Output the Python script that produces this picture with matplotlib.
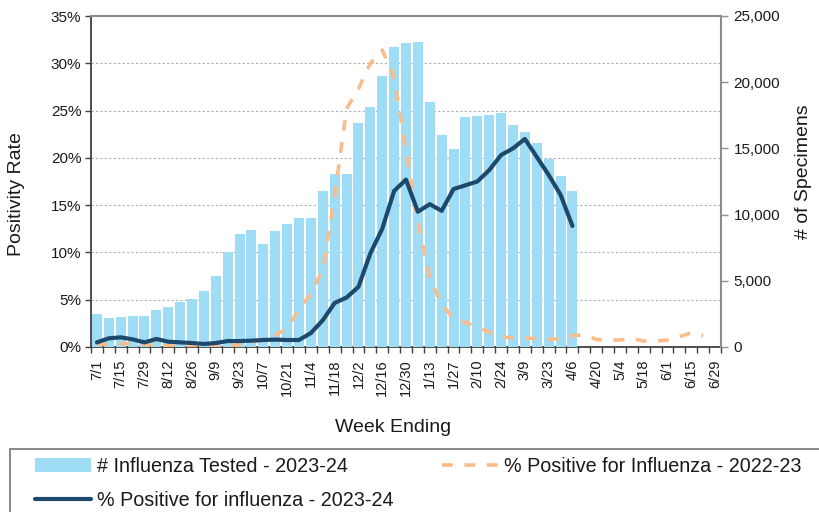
import matplotlib
matplotlib.use("Agg")
import matplotlib.pyplot as plt
from matplotlib.ticker import FuncFormatter, FixedLocator
from matplotlib.patches import Rectangle
import numpy as np

plt.rcParams['font.family'] = ['Liberation Sans', 'DejaVu Sans']

weeks = ["7/1", "7/8", "7/15", "7/22", "7/29", "8/5", "8/12", "8/19", "8/26",
         "9/2", "9/9", "9/16", "9/23", "9/30", "10/7", "10/14", "10/21", "10/28",
         "11/4", "11/11", "11/18", "11/25", "12/2", "12/9", "12/16", "12/23", "12/30",
         "1/6", "1/13", "1/20", "1/27", "2/3", "2/10", "2/17", "2/24",
         "3/2", "3/9", "3/16", "3/23", "3/30", "4/6", "4/13", "4/20", "4/27",
         "5/4", "5/11", "5/18", "5/25", "6/1", "6/8", "6/15", "6/22", "6/29"]

tested_2023_24 = [2520, 2200, 2270, 2370, 2370, 2780, 3030, 3410, 3660, 4220,
                  5350, 7190, 8560, 8810, 7750, 8730, 9290, 9770, 9770, 11790,
                  13070, 13070, 16930, 18120, 20440, 22640, 22970, 23040, 18530, 16030,
                  14970, 17390, 17470, 17540, 17690, 16760, 16250, 15400, 14180, 12900,
                  11760]

pos_2023_24 = [0.49, 0.92, 1.02, 0.81, 0.49, 0.85, 0.56, 0.49, 0.42, 0.32,
               0.42, 0.63, 0.63, 0.67, 0.74, 0.78, 0.74, 0.74, 1.48, 2.83,
               4.66, 5.23, 6.36, 9.9, 12.5, 16.5, 17.7, 14.3, 15.1, 14.4,
               16.7, 17.1, 17.5, 18.7, 20.3, 21.0, 22.0, 20.1, 18.2, 16.1,
               12.8]

pos_2022_23 = [0.30, 0.25, 0.35, 0.35, 0.30, 0.15, 0.12, 0.05, 0.05, 0.05,
               0.05, 0.15, 0.25, 0.50, 0.80, 1.20, 2.00, 4.00, 5.60, 8.20,
               16.0, 25.2, 27.3, 30.0, 31.4, 28.5, 20.8, 13.2, 7.3, 4.5,
               3.0, 2.6, 2.1, 1.6, 1.1, 0.95, 1.0, 0.85, 0.8, 0.9,
               1.2, 1.3, 0.8, 0.7, 0.75, 0.9, 0.63, 0.6, 0.74, 1.1,
               1.5, 1.2]

bar_color = '#9FDDF6'
dark_color = '#1D4A6C'
orange_color = '#FBBC8C'
text_color = '#1a1a1a'

W, H = 819, 512
fig = plt.figure(figsize=(W/100, H/100), dpi=100)
L, R, B, T = 91/W, 721/W, 1-347/H, 1-16/H
ax = fig.add_axes([L, B, R-L, T-B])
ax2 = ax.twinx()
ax3 = fig.add_axes([L, B, R-L, T-B], sharex=ax, sharey=ax)
ax3.axis('off')
ax3.patch.set_visible(False)
ax2.patch.set_visible(False)

n = len(weeks)
x_all = np.arange(n)

# bars on right axis
bars = ax2.bar(np.arange(len(tested_2023_24)), tested_2023_24, width=0.84,
               color=bar_color, linewidth=0, label='# Influenza Tested - 2023-24', zorder=2)
ax2.set_ylim(0, 25000)
ax2.set_yticks(np.arange(0, 25001, 5000))
ax2.yaxis.set_major_formatter(FuncFormatter(lambda v, p: f"{int(v):,}"))

# lines on overlay axis sharing left scale
l2, = ax3.plot(np.arange(len(pos_2022_23)), pos_2022_23, color=orange_color, lw=2.6,
               dashes=(3.0, 3.2), label='% Positive for Influenza - 2022-23', zorder=3)
l1, = ax3.plot(np.arange(len(pos_2023_24)), pos_2023_24, color=dark_color, lw=3.0,
               solid_joinstyle='round', solid_capstyle='round',
               label='% Positive for influenza - 2023-24', zorder=4)

ax.set_xlim(-0.5, n - 0.5)
ax.set_ylim(0, 35)
ax.set_yticks(np.arange(0, 36, 5))
ax.yaxis.set_major_formatter(FuncFormatter(lambda v, p: f"{int(v)}%"))
ax.yaxis.grid(True, color='#b0b0b0', linestyle=(0, (2, 2)), linewidth=0.8)
ax.set_axisbelow(True)

# x ticks
ax.set_xticks(x_all[::2])
ax.set_xticklabels(weeks[::2], rotation=90, va='top', ha='center')
ax.xaxis.set_minor_locator(FixedLocator(np.arange(-0.5, n, 1.0)))
ax.tick_params(axis='x', which='major', length=0, pad=9, labelsize=10.5, labelcolor=text_color)
ax.tick_params(axis='x', which='minor', length=4, width=1, color='#404040', direction='out')
ax.tick_params(axis='y', which='major', length=4, width=1, color='#404040', direction='out',
               labelsize=11, labelcolor=text_color, pad=3)
ax2.tick_params(axis='y', which='major', length=5, width=1, color='#909090', direction='out',
                labelsize=11, labelcolor=text_color, pad=4)

for s in ['left', 'bottom']:
    ax.spines[s].set_color('#404040')
    ax.spines[s].set_linewidth(1.3)
ax.spines['top'].set_color('#8c8c8c')
ax.spines['top'].set_linewidth(1.5)
ax.spines['right'].set_visible(False)
for s in ['left', 'bottom', 'top']:
    ax2.spines[s].set_visible(False)
ax2.spines['right'].set_color('#8c8c8c')
ax2.spines['right'].set_linewidth(1.5)

fig.text(17/W, 1-194/H, 'Positivity Rate', rotation=90, va='center', ha='center',
         fontsize=14, color=text_color)
fig.text(803/W, 1-172/H, '# of Specimens', rotation=90, va='center', ha='center',
         fontsize=14, color=text_color)
fig.text(393/W, 1-428/H, 'Week Ending', va='center', ha='center',
         fontsize=14, color=text_color)

# legend frame (extends past the figure edge as in the reference)
frame = Rectangle((10/W, 1-540/H), 830/W, 91/H, transform=fig.transFigure,
                  facecolor='white', edgecolor='#7f7f7f', linewidth=1.3, zorder=0,
                  clip_on=False)
fig.add_artist(frame)

leg = fig.legend(handles=[bars, l1, l2], ncol=2, loc='upper left',
                 bbox_to_anchor=(35/W, 1-457/H - 0.2, (802-35)/W, 0.2), mode='expand',
                 frameon=False, fontsize=14.2,
                 handlelength=2.85, handletextpad=0.3, labelspacing=0.78,
                 borderpad=0, borderaxespad=0, columnspacing=2)
for t in leg.get_texts():
    t.set_color(text_color)

fig.savefig('out.png', dpi=100)
